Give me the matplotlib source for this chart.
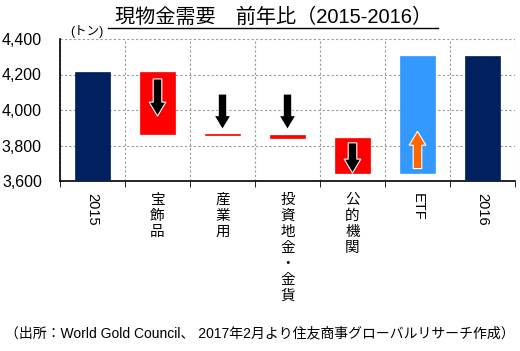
import matplotlib.pyplot as plt
from matplotlib.lines import Line2D

plt.rcParams['font.family'] = ['Liberation Sans', 'Noto Sans CJK JP', 'DejaVu Sans']

# waterfall data (tonnes)
categories = ['2015', '宝飾品', '産業用', '投資地金・金貨', '公的機関', 'ETF', '2016']
start_2015 = 4212
changes = [-345, -10, -12, -200, 657]
end_2016 = 4304
bar_colors = ['#002060', '#FF0000', '#FF0000', '#FF0000', '#FF0000', '#3399FF', '#002060']
y_ticks = [3600, 3800, 4000, 4200, 4400]

# arrow spans (tail, tip) for the change columns
arrow_spans = [(4175, 3966), (4090, 3890), (4090, 3890), (3815, 3645), (3670, 3880)]
arrow_colors = ['black', 'black', 'black', 'black', '#FF6600']

fig = plt.figure(figsize=(5.2, 3.51), dpi=100)
ax = fig.add_axes([60/520, 1-181/351, 455/520, 142/351])

x = list(range(len(categories)))
bottoms = [3600]
heights = [start_2015 - 3600]
level = start_2015
for c in changes:
    bottoms.append(min(level, level + c))
    heights.append(abs(c))
    level += c
bottoms.append(3600)
heights.append(end_2016 - 3600)

ax.bar(x, heights, bottom=bottoms, width=0.55, color=bar_colors,
       edgecolor=bar_colors, linewidth=0.5, zorder=3)

for i, ((tail, tip), col) in enumerate(zip(arrow_spans, arrow_colors)):
    ax.annotate('', xy=(i + 1, tip), xytext=(i + 1, tail),
                arrowprops=dict(arrowstyle='simple,head_length=1.0,head_width=1.2,tail_width=0.62',
                                fc=col, ec='white', lw=0.8, mutation_scale=10,
                                shrinkA=0, shrinkB=0), zorder=4)

ax.set_xlim(-0.5, 6.5)
ax.set_ylim(3600, 4400)
ax.set_yticks(y_ticks)
ax.set_yticklabels([f'{v:,}' for v in y_ticks], fontsize=11.5)
ax.tick_params(axis='y', length=0, pad=13)

ax.set_xticks([i + 0.5 for i in range(-1, 7)], minor=True)
ax.set_xticks(x)
ax.set_xticklabels([])
ax.tick_params(axis='x', which='major', length=0)
ax.tick_params(axis='x', which='minor', length=4, direction='out')
ax.grid(axis='y', which='major', color='#999999', linestyle=(0, (2, 2)), linewidth=0.8, zorder=0)
ax.grid(axis='x', which='minor', color='#999999', linestyle=(0, (2, 2)), linewidth=0.8, zorder=0)
ax.spines['top'].set_visible(False)
ax.spines['right'].set_visible(False)
ax.spines['left'].set_linewidth(1.2)
ax.spines['bottom'].set_linewidth(1.2)

# category labels: numbers / latin rotated, japanese stacked vertically
for i, lab in enumerate(categories):
    if lab.isascii():
        ax.text(i, -0.085, lab, transform=ax.get_xaxis_transform(), rotation=-90,
                ha='center', va='top', fontsize=10.5)
    else:
        ax.text(i, -0.085, '\n'.join(lab), transform=ax.get_xaxis_transform(),
                ha='center', va='top', fontsize=10.5, linespacing=1.18)

fig.text(0.527, 1-17/351, '現物金需要　前年比（2015-2016）', ha='center', va='center', fontsize=14.5)
fig.add_artist(Line2D([108/520, 438/520], [1-27.5/351, 1-27.5/351], color='black', linewidth=1))
fig.text(87/520, 1-32/351, '(トン)', ha='center', va='center', fontsize=9)
fig.text(0.5, 1-333/351, '（出所：World Gold Council、 2017年2月より住友商事グローバルリサーチ作成）',
         ha='center', va='center', fontsize=10)

fig.savefig('out.png', dpi=100)
